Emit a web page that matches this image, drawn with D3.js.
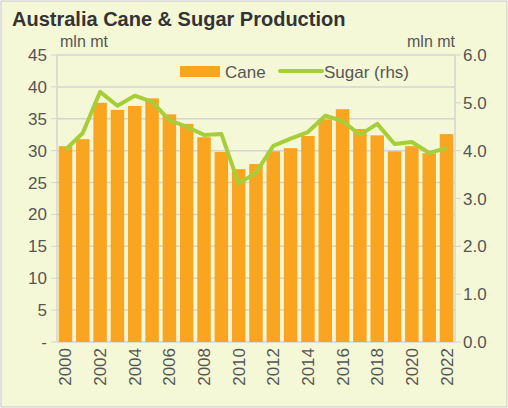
<!DOCTYPE html>
<html><head><meta charset="utf-8">
<script src="https://cdn.jsdelivr.net/npm/d3@7"></script>
<style>body{margin:0;background:#fff}svg{font-family:"Liberation Sans",Arial,sans-serif}</style>
</head><body><div id="chart"></div>
<script>
const years = d3.range(2000, 2023).map(String);
const cane = [30.7,31.8,37.5,36.4,37,38.2,35.7,34.2,32.1,29.8,27.1,27.9,29.9,30.4,32.3,34.9,36.5,33.4,32.4,29.9,30.7,29.6,32.6];
const sugar = [4.02,4.37,5.23,4.94,5.15,5.02,4.64,4.5,4.33,4.35,3.31,3.54,4.1,4.25,4.39,4.73,4.62,4.33,4.56,4.14,4.18,3.95,4.06];
const leftTicks = [0,5,10,15,20,25,30,35,40,45];
const rightTicks = [0,1,2,3,4,5,6];

const W = 508, H = 408;
const m = {l:57, r:53, t:55, b:66};
const svg = d3.select('#chart').append('svg').attr('width',W).attr('height',H);
svg.append('rect').attr('x',1).attr('y',1).attr('width',W-2).attr('height',H-2)
  .attr('fill','#f5f8d6').attr('stroke','#c8c8c8');

const x = d3.scaleBand().domain(years).range([m.l, W-m.r]).paddingInner(0.22).paddingOuter(0.1);
const yL = d3.scaleLinear().domain([0,45]).range([H-m.b, m.t]);
const yR = d3.scaleLinear().domain([0,6]).range([H-m.b, m.t]);

// grid
svg.append('g').selectAll('line').data(leftTicks).join('line')
  .attr('x1',m.l).attr('x2',W-m.r).attr('y1',d=>yL(d)).attr('y2',d=>yL(d))
  .attr('stroke','#d4d4d4').attr('stroke-width',1.5);
[m.l, W-m.r].forEach(xx=>svg.append('line').attr('x1',xx).attr('x2',xx)
  .attr('y1',m.t).attr('y2',H-m.b).attr('stroke','#d4d4d4').attr('stroke-width',1.5));
svg.append('g').selectAll('line').data(rightTicks).join('line')
  .attr('x1',W-m.r).attr('x2',W-m.r+6).attr('y1',d=>yR(d)).attr('y2',d=>yR(d)).attr('stroke','#d4d4d4');
svg.append('g').selectAll('line').data(leftTicks).join('line')
  .attr('x1',m.l-6).attr('x2',m.l).attr('y1',d=>yL(d)).attr('y2',d=>yL(d)).attr('stroke','#d4d4d4');

svg.append('g').selectAll('rect').data(cane).join('rect')
  .attr('x',(d,i)=>x(years[i])).attr('width',x.bandwidth())
  .attr('y',d=>yL(d)).attr('height',d=>yL(0)-yL(d)).attr('fill','#f9a51f');

svg.append('path').datum(sugar)
  .attr('d', d3.line().x((d,i)=>x(years[i])+x.bandwidth()/2).y(d=>yR(d)))
  .attr('fill','none').attr('stroke','#a6ce39').attr('stroke-width',4).attr('stroke-linejoin','round');

const tc = '#555';
svg.append('g').selectAll('text').data(leftTicks).join('text')
  .attr('x',m.l-10).attr('y',d=>yL(d)+6).attr('text-anchor','end')
  .attr('font-size',17).attr('fill',tc).text(d=>d===0?'-':d);
svg.append('g').selectAll('text').data(rightTicks).join('text')
  .attr('x',W-m.r+8).attr('y',d=>yR(d)+6)
  .attr('font-size',17).attr('fill',tc).text(d=>d.toFixed(1));
svg.append('g').selectAll('text').data(years.filter((d,i)=>i%2===0)).join('text')
  .attr('transform',d=>`translate(${x(d)+x.bandwidth()/2+6},${H-m.b+6}) rotate(-90)`)
  .attr('text-anchor','end').attr('font-size',17).attr('fill',tc).text(d=>d);

svg.append('text').attr('x',12).attr('y',26).attr('font-size',20).attr('font-weight','bold')
  .attr('fill','#333').text('Australia Cane & Sugar Production');
svg.append('text').attr('x',60).attr('y',47).attr('font-size',16).attr('fill',tc).text('mln mt');
svg.append('text').attr('x',W-m.r).attr('y',47).attr('text-anchor','end').attr('font-size',16).attr('fill',tc).text('mln mt');

// legend
svg.append('rect').attr('x',180).attr('y',66).attr('width',40).attr('height',11).attr('fill','#f9a51f');
svg.append('text').attr('x',225).attr('y',78).attr('font-size',17).attr('fill',tc).text('Cane');
svg.append('line').attr('x1',280).attr('x2',322).attr('y1',71).attr('y2',71)
  .attr('stroke','#a6ce39').attr('stroke-width',4).attr('stroke-linecap','round');
svg.append('text').attr('x',324).attr('y',78).attr('font-size',17).attr('fill',tc).text('Sugar (rhs)');
</script></body></html>
